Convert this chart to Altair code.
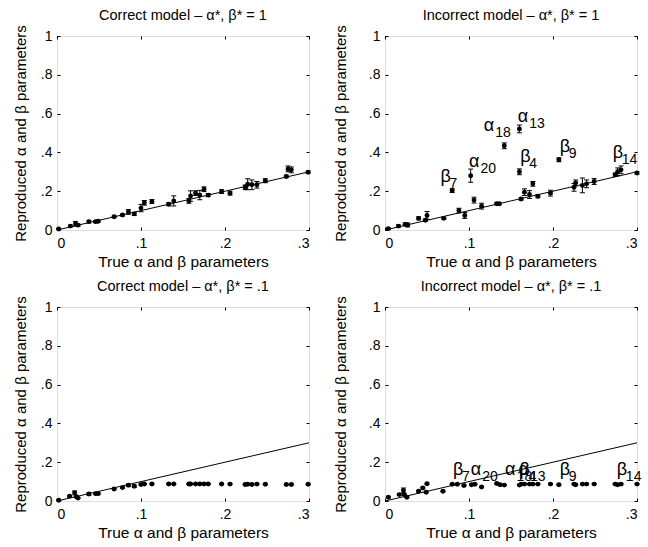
import altair as alt
import pandas as pd

# ---------------- data ----------------
# Panel 1: Correct model, beta* = 1
x1 = [0.002, 0.016, 0.022, 0.025, 0.038, 0.046, 0.049, 0.068, 0.078, 0.085, 0.092, 0.100, 0.104,
      0.113, 0.133, 0.139, 0.157, 0.159, 0.165, 0.170, 0.175, 0.180, 0.196, 0.206, 0.224, 0.227,
      0.232, 0.238, 0.248, 0.273, 0.275, 0.279, 0.299]
y1 = [0.005, 0.020, 0.032, 0.025, 0.043, 0.043, 0.045, 0.068, 0.077, 0.093, 0.083, 0.113, 0.140,
      0.147, 0.133, 0.150, 0.150, 0.175, 0.190, 0.180, 0.210, 0.180, 0.198, 0.190, 0.220, 0.236,
      0.233, 0.233, 0.254, 0.276, 0.315, 0.310, 0.298]
e1 = [0.003, 0.005, 0.012, 0.005, 0.006, 0.005, 0.005, 0.004, 0.005, 0.012, 0.008, 0.019, 0.012,
      0.010, 0.008, 0.026, 0.012, 0.027, 0.012, 0.024, 0.012, 0.008, 0.010, 0.010, 0.012, 0.028,
      0.025, 0.017, 0.010, 0.006, 0.015, 0.015, 0.006]

# Panel 2: Incorrect model, beta* = 1
x2 = [0.004, 0.016, 0.024, 0.027, 0.040, 0.048, 0.050, 0.070, 0.080, 0.088, 0.095, 0.102, 0.106,
      0.115, 0.133, 0.136, 0.142, 0.160, 0.160, 0.162, 0.166, 0.172, 0.176, 0.182, 0.197, 0.207,
      0.225, 0.227, 0.235, 0.240, 0.249, 0.274, 0.277, 0.281, 0.300]
y2 = [0.007, 0.020, 0.029, 0.026, 0.060, 0.050, 0.075, 0.060, 0.203, 0.100, 0.075, 0.280, 0.154,
      0.123, 0.135, 0.135, 0.434, 0.521, 0.300, 0.160, 0.195, 0.183, 0.238, 0.174, 0.190, 0.362,
      0.220, 0.243, 0.230, 0.238, 0.250, 0.285, 0.300, 0.310, 0.294]
e2 = [0.003, 0.006, 0.008, 0.010, 0.008, 0.006, 0.020, 0.005, 0.010, 0.012, 0.015, 0.034, 0.015,
      0.015, 0.005, 0.005, 0.015, 0.020, 0.015, 0.006, 0.017, 0.020, 0.012, 0.008, 0.015, 0.010,
      0.020, 0.015, 0.038, 0.020, 0.015, 0.008, 0.020, 0.020, 0.006]

# Panel 3: Correct model, beta* = .1
x3 = [0.002, 0.015, 0.021, 0.023, 0.025, 0.038, 0.046, 0.049, 0.068, 0.078, 0.085, 0.092, 0.100,
      0.104, 0.113, 0.133, 0.139, 0.157, 0.159, 0.165, 0.170, 0.175, 0.180, 0.196, 0.206, 0.224,
      0.227, 0.232, 0.238, 0.248, 0.273, 0.279, 0.299]
y3 = [0.004, 0.025, 0.042, 0.022, 0.015, 0.036, 0.038, 0.038, 0.062, 0.069, 0.081, 0.076, 0.085,
      0.088, 0.088, 0.088, 0.088, 0.088, 0.088, 0.088, 0.088, 0.088, 0.088, 0.088, 0.087, 0.085,
      0.086, 0.085, 0.087, 0.086, 0.085, 0.085, 0.086]
e3 = [0.003, 0.004, 0.010, 0.004, 0.003, 0.006, 0.004, 0.004, 0.003, 0.003, 0.006, 0.006, 0.003,
      0.003, 0.003, 0.003, 0.003, 0.003, 0.003, 0.003, 0.003, 0.003, 0.003, 0.003, 0.003, 0.003,
      0.003, 0.003, 0.003, 0.003, 0.003, 0.003, 0.003]

# Panel 4: Incorrect model, beta* = .1
x4 = [0.004, 0.017, 0.022, 0.023, 0.026, 0.040, 0.045, 0.049, 0.050, 0.069, 0.080, 0.086, 0.094,
      0.103, 0.107, 0.115, 0.133, 0.137, 0.142, 0.160, 0.162, 0.166, 0.172, 0.176, 0.182, 0.197,
      0.207, 0.225, 0.227, 0.235, 0.240, 0.249, 0.274, 0.277, 0.281, 0.300]
y4 = [0.019, 0.033, 0.055, 0.033, 0.019, 0.050, 0.067, 0.045, 0.089, 0.050, 0.086, 0.086, 0.080,
      0.084, 0.086, 0.072, 0.090, 0.084, 0.082, 0.082, 0.087, 0.087, 0.087, 0.087, 0.087, 0.087,
      0.084, 0.087, 0.084, 0.087, 0.087, 0.087, 0.087, 0.084, 0.087, 0.087]
e4 = [0.003, 0.004, 0.012, 0.004, 0.003, 0.004, 0.004, 0.003, 0.004, 0.003, 0.003, 0.003, 0.003,
      0.003, 0.003, 0.003, 0.003, 0.003, 0.003, 0.003, 0.003, 0.003, 0.003, 0.003, 0.003, 0.003,
      0.003, 0.003, 0.003, 0.003, 0.003, 0.003, 0.003, 0.003, 0.003, 0.003]

# Outlier labels (letter, subscript, label anchor in data units)
lab_letter = ["β", "α", "α", "α", "β", "β", "β"]
lab_sub = ["7", "20", "18", "13", "4", "9", "14"]
lab2_x = [0.066, 0.100, 0.1175, 0.158, 0.161, 0.208, 0.271]
lab2_y = [0.246, 0.323, 0.508, 0.557, 0.350, 0.402, 0.371]
lab4_x = [0.081, 0.102, 0.143, 0.159, 0.160, 0.208, 0.276]
lab4_y = [0.135, 0.135, 0.135, 0.135, 0.135, 0.135, 0.135]

diag_x = [0.0, 0.3]
diag_y = [0.0, 0.3]

x_ticks = [0, 0.1, 0.2, 0.3]
y_ticks = [0, 0.2, 0.4, 0.6, 0.8, 1.0]

titles = ["Correct model – α*, β* = 1", "Incorrect model – α*, β* = 1",
          "Correct model – α*, β* = .1", "Incorrect model – α*, β* = .1"]
x_title = "True α and β parameters"
y_title = "Reproduced α and β parameters"

# ---------------- chart ----------------
FONT = "Liberation Sans"
W, H = 252, 194
TICK = 3
label_expr = "datum.value == 0 ? '0' : (datum.value >= 1 ? '1' : '.' + round(datum.value * 10))"

xs = alt.Scale(domain=[0, 0.3], nice=False, zero=False)
ys = alt.Scale(domain=[0, 1], nice=False, zero=False)
xax = alt.Axis(values=x_ticks, title=x_title, labelExpr=label_expr, grid=True,
               gridDash=[TICK, H - 2 * TICK, TICK, 1000], gridColor="black", gridOpacity=1,
               gridWidth=1, ticks=False, domain=False, labelPadding=6, titlePadding=4,
               labelFontSize=14, titleFontSize=15.5, labelFont=FONT, titleFont=FONT,
               labelColor="black", titleColor="black", titleFontWeight="normal")


def make_yax(tp):
    return alt.Axis(values=y_ticks, title=y_title, labelExpr=label_expr, grid=True,
                    gridDash=[TICK, W - 2 * TICK, TICK, 1000], gridColor="black", gridOpacity=1,
                    gridWidth=1, ticks=False, domain=False, labelPadding=5, titlePadding=tp,
                    labelFontSize=14, titleFontSize=15, labelFont=FONT, titleFont=FONT,
                    labelColor="black", titleColor="black", titleFontWeight="normal")


diag_df = pd.DataFrame({"x": diag_x, "y": diag_y})


def panel(x, y, e, title, tp, lx=None, ly=None):
    yax = make_yax(tp)

    def X(f):
        return alt.X(f, type="quantitative", scale=xs, axis=xax)

    def Y(f):
        return alt.Y(f, type="quantitative", scale=ys, axis=yax)

    df = pd.DataFrame({"x": x, "y": y,
                       "lo": [a - b for a, b in zip(y, e)],
                       "hi": [a + b for a, b in zip(y, e)]})
    diag = alt.Chart(diag_df).mark_line(color="black", strokeWidth=1).encode(x=X("x"), y=Y("y"))
    bars = alt.Chart(df).mark_rule(color="black", strokeWidth=1).encode(
        x=X("x"), y=Y("lo"), y2="hi")
    cap_lo = alt.Chart(df).mark_tick(color="black", orient="horizontal", size=5,
                                     thickness=1, opacity=1).encode(x=X("x"), y=Y("lo"))
    cap_hi = alt.Chart(df).mark_tick(color="black", orient="horizontal", size=5,
                                     thickness=1, opacity=1).encode(x=X("x"), y=Y("hi"))
    pts = alt.Chart(df).mark_circle(color="black", size=24, opacity=1).encode(x=X("x"), y=Y("y"))
    layers = [diag, bars, cap_lo, cap_hi, pts]
    if lx is not None:
        ldf = pd.DataFrame({"lx": lx, "ly": ly, "letter": lab_letter, "sub": lab_sub})
        letters = alt.Chart(ldf).mark_text(align="left", baseline="alphabetic", fontSize=18,
                                           font=FONT, color="black").encode(
            x=X("lx"), y=Y("ly"), text="letter:N")
        sub_a = alt.Chart(ldf).transform_filter(alt.datum.letter == "α").mark_text(
            align="left", baseline="alphabetic", fontSize=14, font=FONT, color="black",
            dx=11.5, dy=6).encode(x=X("lx"), y=Y("ly"), text="sub:N")
        sub_b = alt.Chart(ldf).transform_filter(alt.datum.letter == "β").mark_text(
            align="left", baseline="alphabetic", fontSize=14, font=FONT, color="black",
            dx=9, dy=6).encode(x=X("lx"), y=Y("ly"), text="sub:N")
        layers += [letters, sub_a, sub_b]
    return alt.layer(*layers).properties(
        width=W, height=H,
        title=alt.TitleParams(title, fontSize=14.5, font=FONT, fontWeight="normal",
                              color="black", offset=1))


p1 = panel(x1, y1, e1, titles[0], 12)
p2 = panel(x2, y2, e2, titles[1], 20, lab2_x, lab2_y)
p3 = panel(x3, y3, e3, titles[2], 12)
p4 = panel(x4, y4, e4, titles[3], 20, lab4_x, lab4_y)

chart = alt.vconcat(
    alt.hconcat(p1, p2, spacing=20),
    alt.hconcat(p3, p4, spacing=20),
    spacing=8,
).properties(padding={"left": 12, "top": 7, "right": 2, "bottom": 2}).configure_view(
    stroke="black", strokeWidth=1
).configure(background="white")

chart.save("out.html", embed_options={"renderer": "svg", "actions": False})
